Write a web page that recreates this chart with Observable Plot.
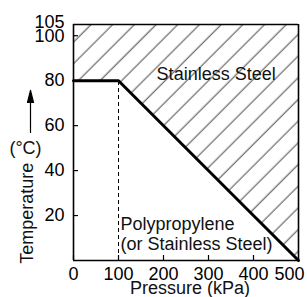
<!DOCTYPE html>
<html><head><meta charset="utf-8">
<script src="https://cdn.jsdelivr.net/npm/d3@7"></script>
<script src="https://cdn.jsdelivr.net/npm/@observablehq/plot@0.6"></script>
<style>
html,body{margin:0;padding:0;background:#fff;}
</style>
</head><body><div id="chart"></div>
<script>
const pressure = [0, 100, 500];
const temperature = [80, 80, 0];
const xTicks = [0, 100, 200, 300, 400];
const xLastTick = [500];
const yTicks = [20, 40, 60, 80, 100];
const yTop = 105;
const xMax = 500;
const kneePressure = 100;
const kneeTemp = 80;
const regionLabels = ["Stainless Steel", "Polypropylene\n(or Stainless Steel)"];
const regionLabelX = [317, 100];
const regionLabelY = [83, 12];
const xLabel = "Pressure (kPa)";
const yLabel = "Temperature";
const yUnit = "(°C)";

const boundary = pressure.map((p, i) => ({p, t: temperature[i]}));

const arrowShape = {
  draw(context, l) {
    context.moveTo(0, 0);
    context.lineTo(0, -l);
    context.moveTo(-3, -l + 12);
    context.lineTo(0, -l);
    context.lineTo(3, -l + 12);
    context.closePath();
  }
};

const font = "'Liberation Sans', Arial, Helvetica, sans-serif";

const chart = Plot.plot({
  width: 307, height: 297,
  marginLeft: 73, marginRight: 9, marginTop: 24, marginBottom: 37,
  style: {fontFamily: font, fontSize: "18px", background: "white", overflow: "visible", color: "black"},
  x: {domain: [0, xMax]},
  y: {domain: [0, yTop]},
  marks: [
    Plot.areaY(boundary, {x: "p", y1: "t", y2: yTop, fill: "url(#hatch)"}),
    Plot.ruleX([kneePressure], {y1: 0, y2: kneeTemp, strokeDasharray: "4,3", strokeWidth: 1, stroke: "black"}),
    Plot.axisX(xTicks, {tickSize: -5, tickPadding: 12, stroke: "black", strokeWidth: 1.2, letterSpacing: "-1.5px", fill: "black", label: null}),
    Plot.axisX(xLastTick, {tickSize: 0, tickPadding: 7, dx: -9, letterSpacing: "-1.5px", fill: "black", label: null}),
    Plot.axisY(yTicks, {tickSize: -5, tickPadding: 14, stroke: "black", strokeWidth: 1.2, letterSpacing: "-1px", fill: "black", label: null}),
    Plot.axisY([yTop], {tickSize: 0, tickPadding: 9, dy: -2, letterSpacing: "-1px", fill: "black", label: null}),
    Plot.ruleX([0, xMax], {y1: 0, y2: yTop, strokeWidth: 1.6, stroke: "black"}),
    Plot.ruleY([0, yTop], {x1: 0, x2: xMax, strokeWidth: 1.6, stroke: "black"}),
    Plot.line(boundary, {x: "p", y: "t", strokeWidth: 3, stroke: "black"}),
    Plot.text([regionLabels[0]], {x: regionLabelX[0], y: regionLabelY[0], text: d => d, fill: "#111", textAnchor: "middle"}),
    Plot.text([regionLabels[1]], {x: regionLabelX[1], y: regionLabelY[1], text: d => d, fill: "#111", textAnchor: "start", dx: 2, lineHeight: 1.12}),
    Plot.text([xLabel], {frameAnchor: "bottom", text: d => d, dy: 33, dx: 4, fill: "#111"}),
    Plot.text([yLabel], {frameAnchor: "left", y: 21, text: d => d, rotate: -90, dx: -46, fill: "#111", textAnchor: "middle"}),
    Plot.text([yUnit], {frameAnchor: "left", y: 50, text: d => d, dx: -48, fill: "#111", textAnchor: "middle"}),
    Plot.vector([yUnit], {frameAnchor: "left", y: 57, dx: -43, length: 42, anchor: "start", shape: arrowShape, stroke: "black", fill: "black", strokeWidth: 1.2})
  ]
});

const svg = chart.tagName.toLowerCase() === "svg" ? chart : chart.querySelector("svg");
const ns = "http://www.w3.org/2000/svg";
const defs = document.createElementNS(ns, "defs");
const pat = document.createElementNS(ns, "pattern");
pat.setAttribute("id", "hatch");
pat.setAttribute("patternUnits", "userSpaceOnUse");
pat.setAttribute("width", "15.34");
pat.setAttribute("height", "15.34");
pat.setAttribute("patternTransform", "rotate(45)");
const ln = document.createElementNS(ns, "line");
ln.setAttribute("x1", "5"); ln.setAttribute("x2", "5");
ln.setAttribute("y1", "-1"); ln.setAttribute("y2", "17");
ln.setAttribute("stroke", "#333");
ln.setAttribute("stroke-width", "0.9");
pat.appendChild(ln);
defs.appendChild(pat);
svg.insertBefore(defs, svg.firstChild);

document.getElementById("chart").appendChild(chart);
</script>
</body></html>
